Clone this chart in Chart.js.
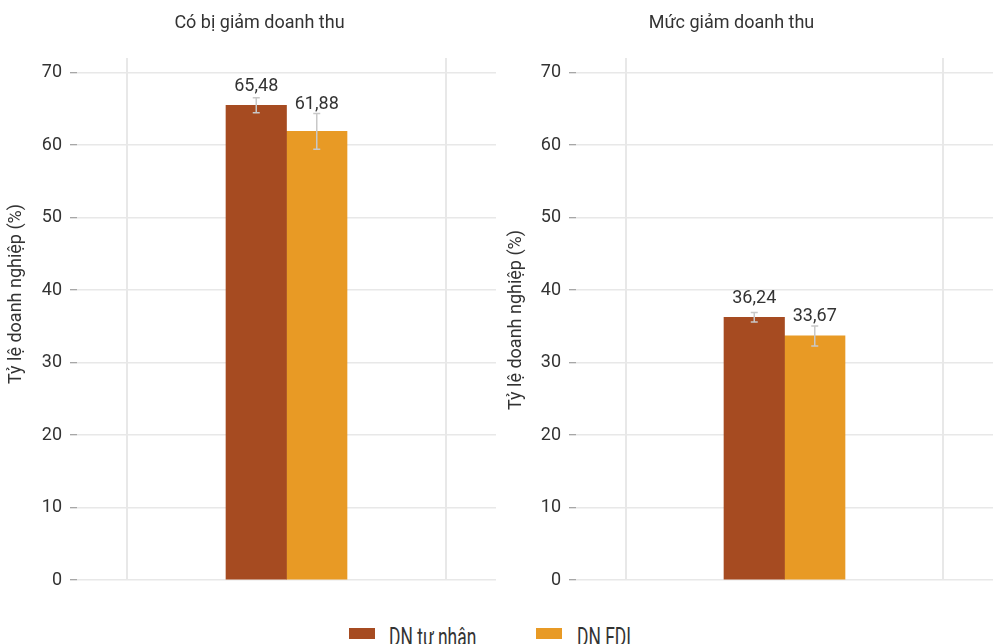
<!DOCTYPE html>
<html><head><meta charset="utf-8">
<script src="https://cdn.jsdelivr.net/npm/chart.js"></script>
<style>
html,body{margin:0;padding:0;background:#fff;width:993px;height:644px;overflow:hidden;position:relative;font-family:Roboto,"Noto Sans",sans-serif;color:#333}
canvas{position:absolute;top:0}
.t{position:absolute;top:11px;width:400px;font-size:18px;line-height:22px;text-align:center;white-space:nowrap}
.yt{position:absolute;width:300px;height:22px;font-size:18px;line-height:22px;text-align:center;white-space:nowrap;transform:rotate(-90deg)}
.sw{position:absolute;top:628px;width:26px;height:11px}
.lt{position:absolute;top:622px;font-size:26px;line-height:30px;white-space:nowrap;transform:scaleX(0.67);transform-origin:0 0}
</style></head><body>
<canvas id="c0" width="497" height="600" style="left:0"></canvas>
<canvas id="c1" width="496" height="600" style="left:497px"></canvas>
<div id="overlay"></div>
<script>
// ---- data ----
const panelTitles = ['Có bị giảm doanh thu', 'Mức giảm doanh thu'];
const seriesNames = ['DN tư nhân', 'DN FDI'];
const privateValues = [65.48, 36.24];
const fdiValues = [61.88, 33.67];
const privateErrors = [1.03, 0.65];
const fdiErrors = [2.46, 1.38];
const yAxisTitle = 'Tỷ lệ doanh nghiệp (%)';
const yTicks = [0, 10, 20, 30, 40, 50, 60, 70];
const yMax = 72;
const xGridTicks = [-0.5, 0.5];
const xRange = [-0.657, 0.657];

// ---- style ----
const colors = ['#A64B21', '#E89A25'];
const gridColor = '#e8e8e8';
const textColor = '#333';

const fmt = v => v.toFixed(2).replace('.', ',');

const errLabelPlugin = {
  id: 'errLabels',
  afterDatasetsDraw(chart) {
    const ctx = chart.ctx, ys = chart.scales.y;
    chart.data.datasets.forEach((ds, di) => {
      const meta = chart.getDatasetMeta(di);
      meta.data.forEach((bar, i) => {
        const v = ds.data[i].y, e = ds.errors[i];
        const x = bar.x;
        const yHi = ys.getPixelForValue(v + e), yLo = ys.getPixelForValue(v - e);
        ctx.save();
        ctx.strokeStyle = '#c8c8c8';
        ctx.lineWidth = 1.5;
        ctx.beginPath();
        ctx.moveTo(x, yHi); ctx.lineTo(x, yLo);
        ctx.moveTo(x - 3.5, yHi); ctx.lineTo(x + 3.5, yHi);
        ctx.moveTo(x - 3.5, yLo); ctx.lineTo(x + 3.5, yLo);
        ctx.stroke();
        ctx.fillStyle = textColor;
        ctx.font = '18px Roboto';
        ctx.textAlign = 'center';
        ctx.textBaseline = 'alphabetic';
        const base = Math.min(bar.y - 14, yHi - 5);
        ctx.fillText(fmt(v), x, base);
        ctx.restore();
      });
    });
  }
};

function makeChart(id, idx, yWidth, padRight) {
  return new Chart(document.getElementById(id), {
    type: 'bar',
    data: {
      datasets: [
        { label: seriesNames[0], data: [{ x: 0, y: privateValues[idx] }], errors: [privateErrors[idx]], backgroundColor: colors[0], borderWidth: 0, barThickness: 60.5 },
        { label: seriesNames[1], data: [{ x: 0, y: fdiValues[idx] }], errors: [fdiErrors[idx]], backgroundColor: colors[1], borderWidth: 0, barThickness: 60.5 }
      ]
    },
    options: {
      responsive: false,
      animation: false,
      devicePixelRatio: 1,
      layout: { padding: { top: 58, bottom: 20, left: 0, right: padRight } },
      plugins: { legend: { display: false }, tooltip: { enabled: false } },
      scales: {
        x: {
          type: 'linear',
          offset: false,
          min: xRange[0], max: xRange[1],
          afterBuildTicks: s => { s.ticks = xGridTicks.map(v => ({ value: v })); },
          afterFit: s => { s.height = 0; },
          ticks: { display: false },
          grid: { color: gridColor, lineWidth: 2, drawTicks: false, offset: false },
          border: { display: false }
        },
        y: {
          min: 0, max: yMax,
          afterBuildTicks: s => { s.ticks = yTicks.map(v => ({ value: v })); },
          afterFit: s => { s.width = yWidth; },
          ticks: { color: textColor, font: { family: 'Roboto', size: 18 }, padding: 8 },
          grid: { color: gridColor, lineWidth: 1.5, tickLength: 7, tickColor: '#8a8a8a', tickWidth: 1 },
          border: { display: false }
        }
      }
    },
    plugins: [errLabelPlugin]
  });
}

makeChart('c0', 0, 77, 1);
makeChart('c1', 1, 79, 0);

// ---- text overlay ----
const ov = document.getElementById('overlay');
function addDiv(cls, text, css) {
  const d = document.createElement('div');
  d.className = cls; d.textContent = text;
  Object.assign(d.style, css);
  ov.appendChild(d);
}
addDiv('t', panelTitles[0], { left: '59.5px' });
addDiv('t', panelTitles[1], { left: '531.5px' });
addDiv('yt', yAxisTitle, { left: '-135px', top: '282.5px' });
addDiv('yt', yAxisTitle, { left: '365px', top: '309px' });
addDiv('sw', '', { left: '349px', background: colors[0] });
addDiv('lt', seriesNames[0], { left: '389px' });
addDiv('sw', '', { left: '536px', background: colors[1] });
addDiv('lt', seriesNames[1], { left: '577px' });
</script>
</body></html>
